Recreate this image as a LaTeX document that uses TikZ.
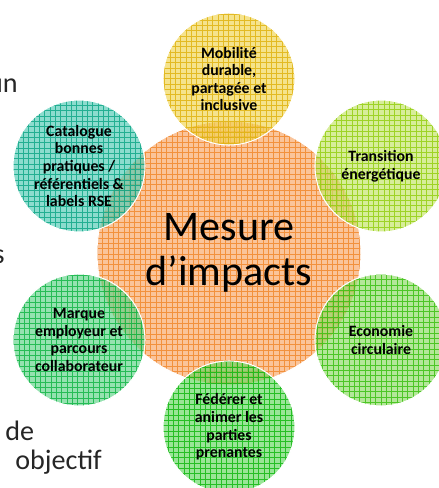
\documentclass[tikz,border=0pt]{standalone}
\usepackage{fontspec}
\setmainfont{Carlito}
\usetikzlibrary{positioning}

\definecolor{orangeBg}{HTML}{FAC49A}
\definecolor{orangeFg}{HTML}{F0801E}
\definecolor{yellowBg}{HTML}{F1D555}
\definecolor{yellowFg}{HTML}{DDAD00}
\definecolor{limeBg}{HTML}{C4E568}
\definecolor{limeFg}{HTML}{8BCB00}
\definecolor{tealBg}{HTML}{55CCB7}
\definecolor{tealFg}{HTML}{00A07E}
\definecolor{mintBg}{HTML}{63D48B}
\definecolor{mintFg}{HTML}{00B038}
\definecolor{grassBg}{HTML}{69D865}
\definecolor{grassFg}{HTML}{00B300}
\definecolor{leafBg}{HTML}{91DC68}
\definecolor{leafFg}{HTML}{2BBB00}

\begin{document}
\begin{tikzpicture}[on grid,
    bubble/.style={circle, draw=white, line width=0.6pt, minimum size=2.64cm,
      inner sep=0pt, align=center, font=\bfseries\fontsize{9}{10}\selectfont,
      fill opacity=0.68, text opacity=1},
    gridfill/.style 2 args={fill=#1, path picture={
      \draw[#2, line width=0.4pt, draw opacity=0.75, step=0.1067cm]
        (path picture bounding box.south west) grid (path picture bounding box.north east);}},
    slidetext/.style={font=\fontsize{16}{19}\selectfont, text=black!85, inner sep=0pt}]

  \useasboundingbox (-4.58,-4.70) rectangle (4.20,5.06);

  % text of the slide behind
  \node[slidetext, anchor=base east] (un) at (-4.22,3.20) {un};
  \node[slidetext, anchor=base east] (s) at (-4.48,-0.22) {s};
  \node[slidetext, anchor=base west] (de) at (-4.48,-3.74) {de};
  \node[slidetext, anchor=base west] (objectif) at (-4.28,-4.32) {objectif};

  % Define nodes
  \node[bubble, gridfill={orangeBg}{orangeFg}, minimum size=5.28cm, fill opacity=1,
    font=\fontsize{24}{26}\selectfont] (centre) at (0,0) {Mesure\\d’impacts};

  \node[bubble, gridfill={yellowBg}{yellowFg}, above=3.48cm of centre]
    (mobilite) {Mobilité\\durable,\\partagée et\\inclusive};
  \node[bubble, gridfill={limeBg}{limeFg}, above right=1.74cm and 3.04cm of centre]
    (transition) {Transition\\énergétique};
  \node[bubble, gridfill={leafBg}{leafFg}, below right=1.74cm and 3.04cm of centre]
    (economie) {Economie\\circulaire};
  \node[bubble, gridfill={grassBg}{grassFg}, below=3.48cm of centre]
    (federer) {Fédérer et\\animer les\\parties\\prenantes};
  \node[bubble, gridfill={mintBg}{mintFg}, below left=1.74cm and 3.0cm of centre]
    (marque) {Marque\\employeur et\\parcours\\collaborateur};
  \node[bubble, gridfill={tealBg}{tealFg}, above left=1.74cm and 3.0cm of centre]
    (catalogue) {Catalogue\\bonnes\\pratiques /\\référentiels \&\\labels RSE};

\end{tikzpicture}
\end{document}
